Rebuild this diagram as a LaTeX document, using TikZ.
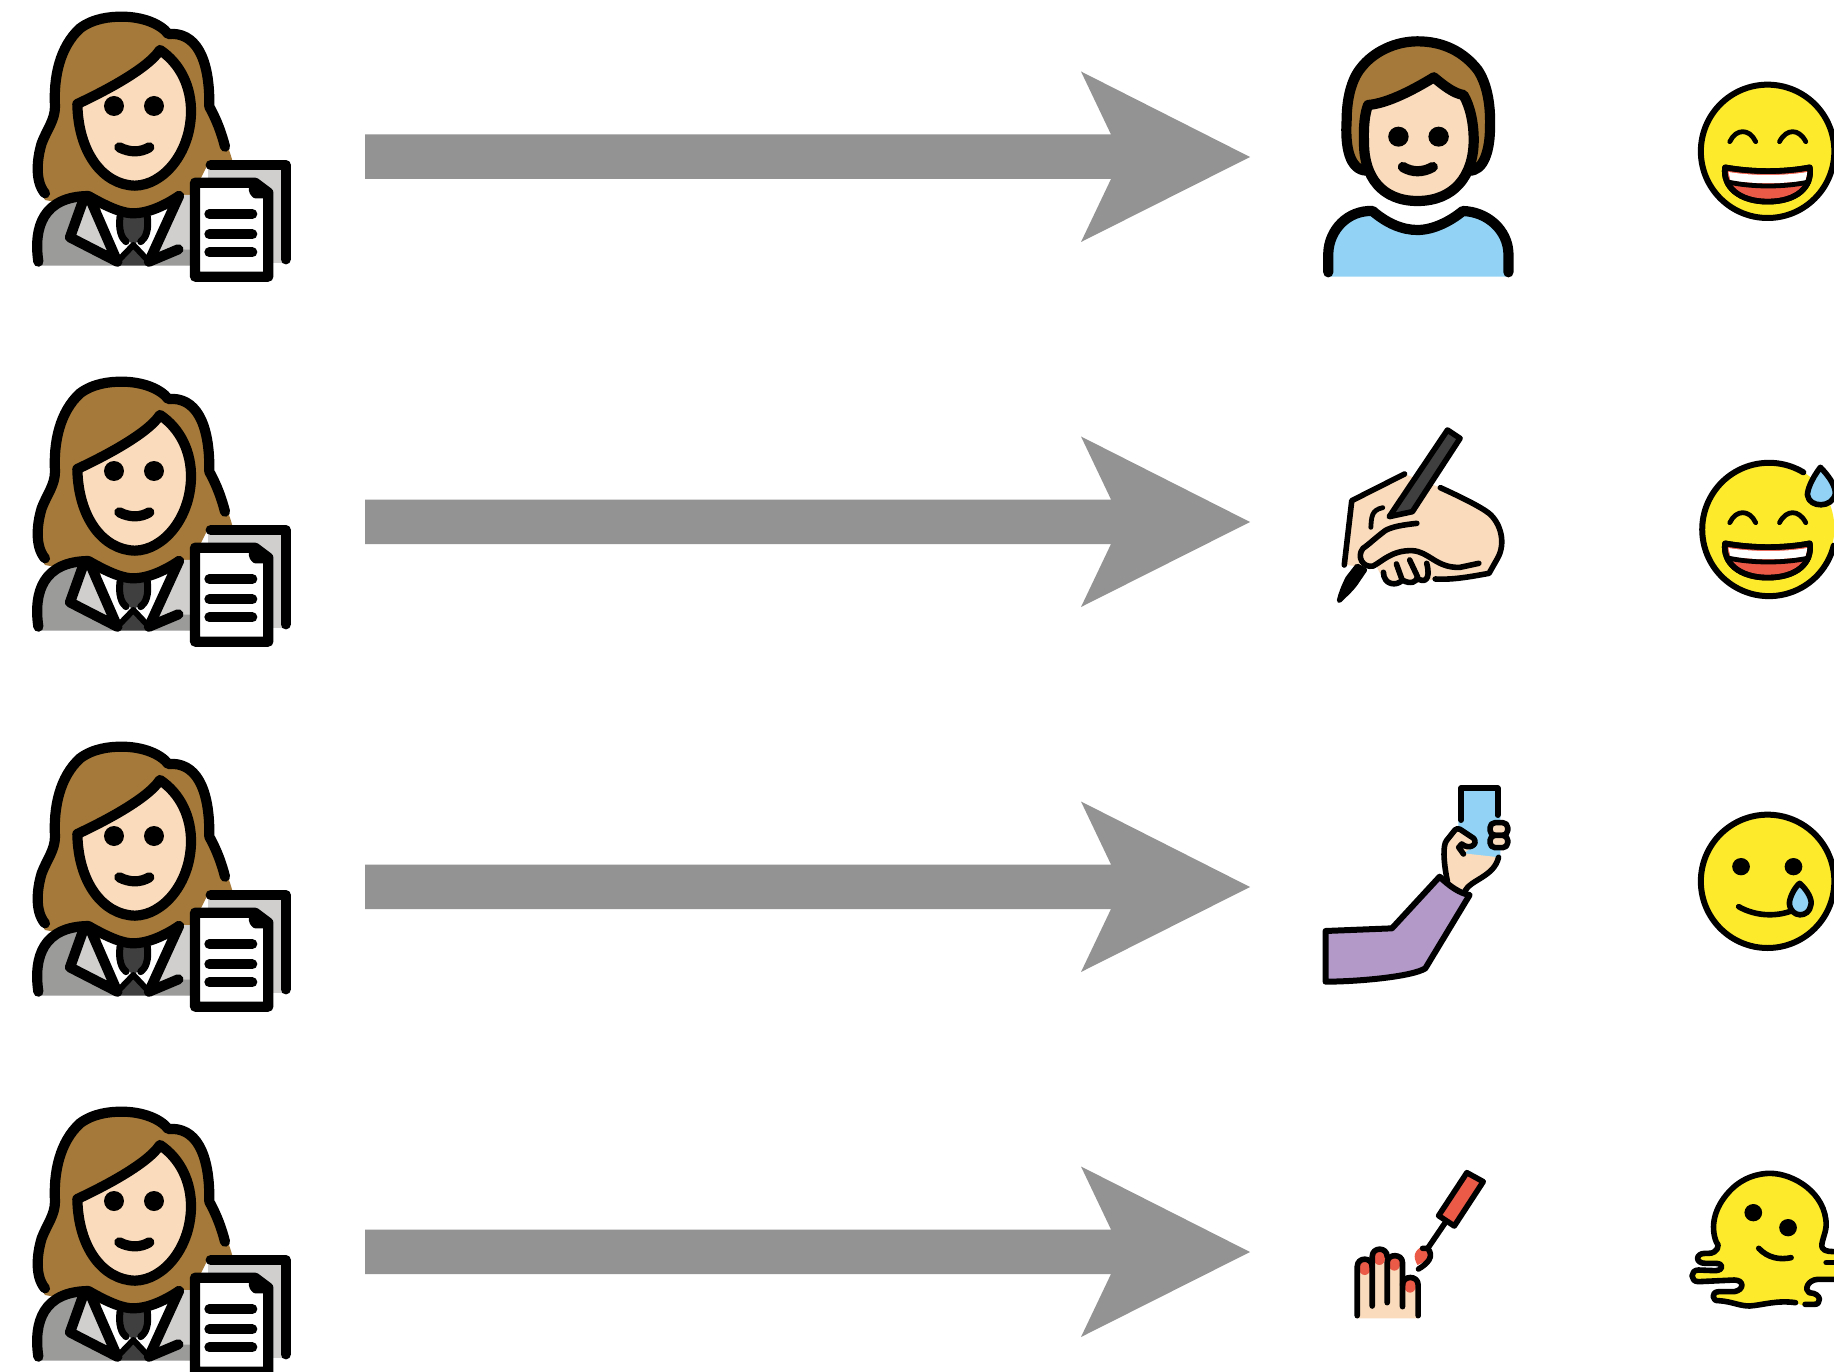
\documentclass[tikz,border=0pt]{standalone}
\definecolor{hair}{HTML}{A57939}
\definecolor{skin}{HTML}{FADCBC}
\definecolor{emo}{HTML}{FCEA2B}
\definecolor{sky}{HTML}{92D3F5}
\definecolor{redd}{HTML}{EA5A47}
\definecolor{purp}{HTML}{B399C8}
\definecolor{gl}{HTML}{D0CFCE}
\definecolor{gm}{HTML}{9B9B9A}
\definecolor{gd}{HTML}{3F3F3F}
\definecolor{arrowgrey}{HTML}{939393}
\tikzset{
 ink/.style={draw=black,line cap=round,line join=round},
 w28/.style={ink,line width=10.2pt},
 w14/.style={ink,line width=5.6pt},
 w12/.style={ink,line width=4.8pt},
 w18/.style={ink,line width=6pt},
 tieline/.style={ink,line width=7pt},
 zoomA/.style={x=0.33333pt,y=-0.33333pt},
 zoomB/.style={x=0.34056pt,y=-0.33333pt},
 bigarrow/.style={fill=arrowgrey,draw=none}
}
\newcommand{\WomanIcon}{%
 \fill[hair] (135,600) .. controls (105,545) and (110,480) .. (125,430) .. controls (140,390) and (165,360) .. (165,320) .. controls (160,230) and (180,140) .. (240,85) .. controls (280,55) and (330,50) .. (365,50) .. controls (425,50) and (480,70) .. (505,102) .. controls (585,95) and (630,170) .. (628,320) .. controls (650,360) and (680,420) .. (698,485) -- (625,490) -- (570,600) -- (400,650) -- cycle;
 \fill[gm] (110,797) .. controls (100,680) and (130,590) .. (265,588) -- (352,797) -- cycle;
 \fill[gl] (265,595) -- (210,712) -- (352,785) -- cycle;
 \fill[gl] (540,585) -- (445,790) -- (600,797) -- (600,585) -- cycle;
 \fill[gm] (445,797) -- (540,748) -- (590,750) -- (590,797) -- cycle;
 \fill[white] (300,625) -- (360,750) -- (400,725) -- (440,750) -- (500,625) -- cycle;
 \fill[gd] (362,645) -- (440,645) -- (430,710) -- (400,735) -- (372,710) -- cycle;
 \fill[gd] (400,745) -- (352,797) -- (448,797) -- cycle;
 \draw[w28] (135,580) .. controls (105,545) and (110,480) .. (125,430) .. controls (140,390) and (165,360) .. (165,320) .. controls (160,230) and (180,140) .. (240,85) .. controls (280,55) and (330,50) .. (365,50) .. controls (425,50) and (480,70) .. (505,102) .. controls (585,95) and (630,170) .. (628,320) .. controls (650,360) and (665,400) .. (675,440);
 \draw[w28,fill=skin] (232,312) .. controls (300,280) and (440,210) .. (480,150) .. controls (540,190) and (575,260) .. (573,340) .. controls (570,460) and (490,555) .. (405,557) .. controls (310,555) and (235,460) .. (232,312) -- cycle;
 \fill (342,318) circle[radius=30] (462,318) circle[radius=30];
 \draw[w28] (358,442) .. controls (390,458) and (420,458) .. (448,442);
 \draw[w28] (115,785) .. controls (100,680) and (130,590) .. (265,588) .. controls (330,625) and (370,640) .. (400,640) .. controls (440,640) and (490,620) .. (537,588);
 \draw[w28] (250,600) -- (210,712) -- (352,785) -- (268,592);
 \draw[w28] (537,588) -- (447,785) -- (535,748);
 \draw[w18] (352,785) -- (400,735) -- (447,785);
 \draw[tieline] (360,650) .. controls (355,690) and (365,715) .. (378,725);
 \draw[tieline] (442,650) .. controls (447,690) and (437,715) .. (422,725);
 \fill[gl] (625,505) rectangle (857,790);
 \draw[w28] (632,495) -- (857,495) -- (857,778);
 \draw[w28,fill=white] (585,548) -- (765,548) -- (805,578) -- (805,830) -- (585,830) -- cycle;
 \draw[w28] (762,552) -- (762,572) -- (768,580) -- (800,580);
 \draw[ink,line width=10pt] (628,642) -- (757,642) (628,703) -- (757,703) (628,757) -- (757,757);
}
\newcommand{\BigArrow}{%
 \fill[bigarrow] (365,134.5) -- (1111,134.5) -- (1081,71.5) -- (1250,157) -- (1081,242) -- (1111,179) -- (365,179) -- cycle;
}
\newcommand{\GrinMouth}[1]{%
 \begin{scope}[yshift=#1*-0.33333pt]
 \draw[w14,fill=redd] (1248,442) .. controls (1330,457) and (1420,457) .. (1497,442) .. controls (1505,500) and (1460,545) .. (1373,545) .. controls (1290,545) and (1240,500) .. (1248,442) -- cycle;
 \fill[white] (1258,456) .. controls (1330,468) and (1420,468) .. (1490,456) -- (1484,482) .. controls (1420,492) and (1330,492) .. (1264,482) -- cycle;
 \draw[w12] (1256,486) .. controls (1330,502) and (1420,502) .. (1494,486);
 \draw[w14] (1248,442) .. controls (1330,457) and (1420,457) .. (1497,442) .. controls (1505,500) and (1460,545) .. (1373,545) .. controls (1290,545) and (1240,500) .. (1248,442) -- cycle;
 \end{scope}
}
\begin{document}
\begin{tikzpicture}[x=1pt,y=-1pt]
\useasboundingbox (0,0) rectangle (1834,1372);
\clip (0,0) rectangle (1834,1372);
\fill[white] (0,0) rectangle (1834,1372);
\foreach \r in {0,365,730,1095}{
 \begin{scope}[shift={(0,\r)},zoomA]\WomanIcon\end{scope}
 \begin{scope}[shift={(0,\r)}]\BigArrow\end{scope}
}
% row 1
\begin{scope}[shift={(1300,20)},zoomB]
 \draw[w28,fill=hair] (195,452) .. controls (145,450) and (132,380) .. (137,300) .. controls (137,240) and (150,180) .. (178,145) .. controls (215,95) and (280,64) .. (345,64) .. controls (420,64) and (480,95) .. (522,150) .. controls (548,190) and (560,250) .. (558,320) .. controls (558,390) and (540,455) .. (495,452);
 \draw[w28,fill=skin] (200,255) .. controls (260,250) and (340,205) .. (393,172) .. controls (420,195) and (450,220) .. (480,225) .. controls (500,260) and (510,310) .. (510,360) .. controls (510,470) and (450,543) .. (345,543) .. controls (240,543) and (188,470) .. (188,370) .. controls (186,320) and (190,280) .. (200,255) -- cycle;
 \fill (289,350) circle[radius=30] (407,350) circle[radius=30];
 \draw[w28] (302,441) .. controls (330,458) and (360,458) .. (390,441);
 \fill[sky] (83,770) -- (83,700) .. controls (85,630) and (140,570) .. (213,573) .. controls (255,610) and (300,630) .. (345,630) .. controls (390,630) and (440,605) .. (478,573) .. controls (550,575) and (610,630) .. (612,700) -- (612,770) -- cycle;
 \draw[w28] (83,757) -- (83,700) .. controls (85,630) and (140,570) .. (213,573) .. controls (255,610) and (300,630) .. (345,630) .. controls (390,630) and (440,605) .. (478,573) .. controls (550,575) and (610,630) .. (612,700) -- (612,757);
 \draw[w18,fill=emo] (1373,394) ellipse[x radius=196,y radius=200];
 \draw[w12] (1262,365) .. controls (1280,325) and (1320,325) .. (1338,365);
 \draw[w12] (1408,365) .. controls (1428,325) and (1465,325) .. (1485,365);
 \GrinMouth{0}
\end{scope}
% row 2
\begin{scope}[shift={(1300,410)},zoomB]
 \fill[skin] (135,465) -- (152,272) -- (307,192) -- (412,233) .. controls (470,260) and (530,290) .. (555,310) .. controls (590,340) and (605,400) .. (580,445) -- (555,490) .. controls (500,500) and (450,510) .. (397,507) -- (340,520) -- (250,520) -- (225,470) -- (180,470) -- cycle;
 \draw[w14] (130,465) -- (152,272) -- (307,192);
 \draw[w14] (412,233) .. controls (470,260) and (530,290) .. (555,310) .. controls (590,340) and (605,400) .. (580,445) -- (555,490) .. controls (500,500) and (450,510) .. (397,507);
 \draw[w14,fill=gd] (262,320) -- (433,60) -- (470,85) -- (330,305) -- cycle;
 \draw[w12,fill=black] (115,572) .. controls (120,550) and (128,530) .. (140,505) -- (168,468) -- (190,480) -- (170,510) .. controls (155,535) and (135,552) .. (115,572) -- cycle;
 \draw[w14,fill=skin] (343,340) .. controls (300,345) and (270,350) .. (250,362) .. controls (220,385) and (200,405) .. (185,415) .. controls (165,440) and (185,475) .. (215,468) .. controls (240,455) and (270,420) .. (330,422) .. controls (380,425) and (400,475) .. (470,472) -- (525,460);
 \draw[w12] (208,352) .. controls (210,320) and (210,300) .. (243,293);
 \draw[w14] (245,487) .. controls (245,525) and (285,530) .. (300,510) -- (283,462);
 \draw[w14] (300,510) .. controls (325,525) and (345,515) .. (345,500) -- (322,450);
 \draw[w14] (345,505) .. controls (365,520) and (385,510) .. (372,460);
 \fill[emo] (1373,355) ellipse[x radius=196,y radius=200];
 \draw[w18] (1478,187) arc[start angle=-59,end angle=-346,x radius=196,y radius=200];
 \draw[w12] (1262,338) .. controls (1280,298) and (1320,298) .. (1338,338);
 \draw[w12] (1408,338) .. controls (1428,298) and (1465,298) .. (1485,338);
 \GrinMouth{-42}
 \draw[w14,fill=sky] (1528,172) .. controls (1500,210) and (1490,240) .. (1490,255) .. controls (1495,295) and (1565,295) .. (1572,250) .. controls (1572,225) and (1550,195) .. (1528,172) -- cycle;
\end{scope}
% row 3
\begin{scope}[shift={(1300,770)},zoomB]
 \fill[sky] (465,55) -- (588,55) -- (588,265) -- (465,250) -- cycle;
 \draw[w18] (473,150) -- (473,55) -- (580,55) -- (580,135);
 \fill[skin] (468,175) -- (510,205) -- (515,225) -- (480,250) -- (585,262) .. controls (570,310) and (500,330) .. (485,362) -- (430,335) -- (425,230) -- cycle;
 \draw[w14] (433,335) .. controls (420,270) and (420,225) .. (430,212) -- (455,180) .. controls (460,175) and (465,175) .. (470,178) -- (510,205) .. controls (525,225) and (495,240) .. (475,222) -- (466,232) -- (480,252);
 \draw[w14] (583,262) .. controls (570,320) and (500,330) .. (485,362);
 \draw[w14,fill=skin,rounded corners=5pt] (558,158) rectangle (610,196);
 \draw[w14,fill=skin,rounded corners=5pt] (558,196) rectangle (610,233);
 \draw[w18,fill=purp] (75,483) -- (270,475) -- (410,320) .. controls (440,350) and (470,370) .. (498,375) -- (368,595) .. controls (330,620) and (170,635) .. (75,635) -- cycle;
 \draw[w18,fill=emo] (1373,334) ellipse[x radius=196,y radius=200];
 \fill (1295,290) circle[radius=26] (1449,290) circle[radius=26];
 \draw[w14] (1288,410) .. controls (1340,440) and (1400,440) .. (1445,422);
 \draw[w14,fill=sky] (1467,340) .. controls (1490,360) and (1505,390) .. (1500,405) .. controls (1495,445) and (1440,445) .. (1437,400) .. controls (1437,385) and (1450,355) .. (1467,340) -- cycle;
\end{scope}
% row 4
\begin{scope}[shift={(1300,1150)},zoomB]
 \fill[skin] (168,505) -- (168,350) -- (347,400) -- (347,505) -- cycle;
 \fill[skin] (168,350) .. controls (168,320) and (212,320) .. (212,350) -- (212,320) .. controls (212,290) and (256,290) .. (256,320) -- (256,338) .. controls (256,310) and (301,310) .. (301,338) -- (301,405) .. controls (301,375) and (347,375) .. (347,405) -- cycle;
 \fill[redd] (190,355) ellipse[x radius=17,y radius=20] (233,325) ellipse[x radius=17,y radius=20] (277,342) ellipse[x radius=17,y radius=20] (323,408) ellipse[x radius=17,y radius=20];
 \draw[w14] (168,497) -- (168,350) .. controls (168,320) and (212,320) .. (212,350);
 \draw[w14] (212,468) -- (212,320) .. controls (212,290) and (256,290) .. (256,320);
 \draw[w14] (256,458) -- (256,338) .. controls (256,310) and (301,310) .. (301,338) -- (301,470);
 \draw[w14] (301,405) .. controls (301,375) and (347,375) .. (347,405) -- (347,497);
 \draw[w14,fill=redd] (490,68) -- (538,95) -- (453,228) -- (407,197) -- cycle;
 \draw[w14] (425,220) -- (375,295);
 \fill[redd] (362,288) .. controls (335,300) and (330,320) .. (345,345) -- (385,325) -- cycle;
 \draw[w14] (360,295) -- (375,295) .. controls (395,320) and (375,340) .. (348,357);
 \fill[emo] (1455,458) .. controls (1400,450) and (1360,465) .. (1320,468) .. controls (1290,468) and (1270,455) .. (1230,452) .. controls (1210,455) and (1205,425) .. (1230,425) -- (1275,425) .. controls (1305,420) and (1305,390) .. (1275,390) -- (1170,395) .. controls (1145,395) and (1145,360) .. (1170,360) -- (1220,362) .. controls (1245,360) and (1245,340) .. (1220,340) -- (1190,340) .. controls (1160,340) and (1160,310) .. (1190,310) -- (1200,310) .. controls (1225,310) and (1235,285) .. (1222,275) .. controls (1205,230) and (1215,175) .. (1260,125) .. controls (1300,80) and (1350,70) .. (1380,70) .. controls (1450,70) and (1545,130) .. (1545,225) .. controls (1545,250) and (1525,285) .. (1535,295) .. controls (1540,305) and (1560,305) .. (1580,305) -- (1580,388) -- (1520,388) .. controls (1490,390) and (1480,420) .. (1495,428) .. controls (1535,430) and (1530,465) .. (1510,463) -- (1480,468) -- cycle;
 \draw[w14] (1455,458) .. controls (1400,450) and (1360,465) .. (1320,468) .. controls (1290,468) and (1270,455) .. (1230,452) .. controls (1210,455) and (1205,425) .. (1230,425) -- (1275,425) .. controls (1305,420) and (1305,390) .. (1275,390) -- (1170,395) .. controls (1145,395) and (1145,360) .. (1170,360) -- (1220,362) .. controls (1245,360) and (1245,340) .. (1220,340) -- (1190,340) .. controls (1160,340) and (1160,310) .. (1190,310) -- (1200,310) .. controls (1225,310) and (1235,285) .. (1222,275) .. controls (1205,230) and (1215,175) .. (1260,125) .. controls (1300,80) and (1350,70) .. (1380,70) .. controls (1450,70) and (1545,130) .. (1545,225) .. controls (1545,250) and (1525,285) .. (1535,295) .. controls (1540,305) and (1560,305) .. (1580,305);
 \draw[w14] (1545,338) -- (1580,338);
 \draw[w14] (1580,388) -- (1520,388) .. controls (1490,390) and (1480,420) .. (1495,428) .. controls (1535,430) and (1530,465) .. (1510,463) -- (1483,463);
 \fill (1331,188) circle[radius=26] (1433,233) circle[radius=26];
 \draw[w14] (1347,295) .. controls (1375,325) and (1410,330) .. (1442,323);
\end{scope}
\end{tikzpicture}
\end{document}
